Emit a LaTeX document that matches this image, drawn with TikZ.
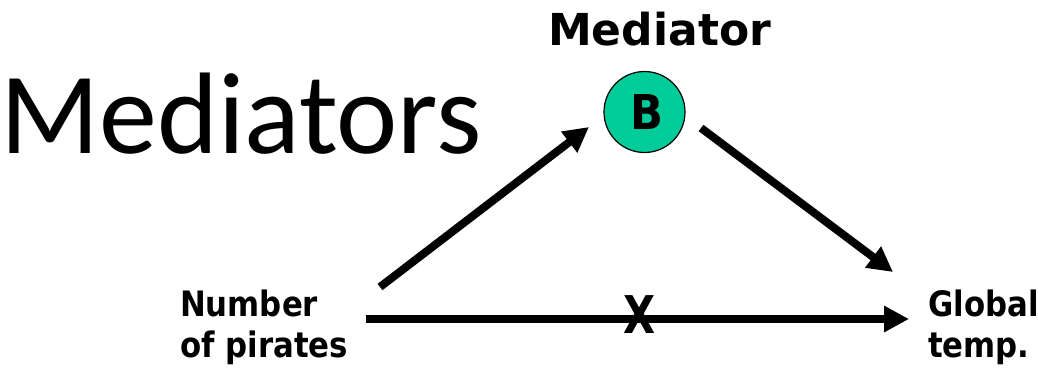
\documentclass[tikz,border=0pt]{standalone}
\usepackage{fontspec}
\setmainfont{DejaVu Sans}
\newfontfamily\titlefont{Carlito}
\usetikzlibrary{arrows.meta}
\definecolor{medgreen}{RGB}{0,204,153}
\begin{document}
\begin{tikzpicture}[x=1pt,y=-1pt,
  arr/.style={line width=8pt,-{Triangle[length=25pt,width=25pt]}},
  lbl/.style={font=\fontsize{35}{41}\selectfont\bfseries, align=left, inner sep=0pt, anchor=north west, xscale=0.88, transform shape},
  medcircle/.style={circle, draw=black, line width=1.2pt, fill=medgreen, minimum size=81pt, inner sep=0pt}]
\useasboundingbox (0,0) rectangle (1038,375);
\node[anchor=base west, inner sep=0pt, font=\titlefont\fontsize{116}{120}\selectfont] (title) at (0,153) {Mediators};
\node[anchor=base west, inner sep=0pt, font=\fontsize{44}{50}\selectfont\bfseries] (medlabel) at (548,45) {Mediator};
\node[medcircle] (B) at (644.5,112) {};
\node[font=\fontsize{48}{54}\selectfont\bfseries, inner sep=0pt, xscale=0.9, transform shape] (Blbl) at (647,112) {B};
\node[lbl] (pirates) at (180,290) {Number\\of pirates};
\node[lbl] (temp) at (928,290) {Global\\temp.};
\coordinate (a1s) at (380,287);
\coordinate (a1e) at (589,127);
\coordinate (a2s) at (701,128);
\coordinate (a2e) at (893,272);
\coordinate (a3s) at (366,319);
\coordinate (a3e) at (909,319);
\draw[arr] (a1s) -- (a1e);
\draw[arr] (a2s) -- (a2e);
\draw[arr] (a3s) -- (a3e);
\node[font=\fontsize{52}{58}\selectfont\bfseries, inner sep=0pt, xscale=0.8, transform shape] (X) at (640,315) {X};
\end{tikzpicture}
\end{document}
